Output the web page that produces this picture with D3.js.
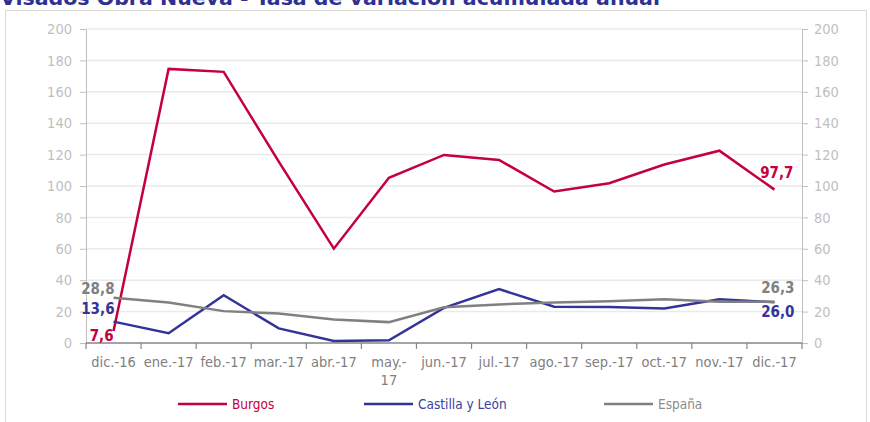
<!DOCTYPE html>
<html>
<head>
<meta charset="utf-8">
<script src="https://cdn.jsdelivr.net/npm/d3@7/dist/d3.min.js"></script>
<style>
  html, body { margin: 0; padding: 0; background: #fff; }
  svg { display: block; }
  text { font-family: "DejaVu Sans Condensed", "DejaVu Sans", sans-serif; }
</style>
</head>
<body>
<svg id="chart" width="870" height="422"></svg>
<script>
// Months on the x axis
const categories = ["dic.-16", "ene.-17", "feb.-17", "mar.-17", "abr.-17", "may.-17",
                    "jun.-17", "jul.-17", "ago.-17", "sep.-17", "oct.-17", "nov.-17", "dic.-17"];
// Tick labels as printed (may.-17 wraps onto two lines)
const tickLabels = ["dic.-16", "ene.-17", "feb.-17", "mar.-17", "abr.-17", "may.-\n17",
                    "jun.-17", "jul.-17", "ago.-17", "sep.-17", "oct.-17", "nov.-17", "dic.-17"];
// Accumulated annual change (%)
const burgos   = [7.6, 174.6, 172.7, 115.5, 60.1, 105.2, 119.8, 116.6, 96.5, 101.8, 113.7, 122.5, 97.7];
const castilla = [13.6, 6.2, 30.5, 9.3, 1.3, 1.7, 22.4, 34.3, 23.1, 23.0, 22.0, 27.8, 26.0];
const espana   = [28.8, 25.8, 20.3, 18.8, 15.0, 13.3, 22.7, 24.6, 25.8, 26.6, 27.8, 26.2, 26.3];
const seriesNames = ["Burgos", "Castilla y León", "España"];
const yTicks = [0, 20, 40, 60, 80, 100, 120, 140, 160, 180, 200];
const title = "Visados Obra Nueva - Tasa de variación acumulada anual";

const series = [
  { name: seriesNames[0], values: burgos,   color: "#C4003D", text: "#C4003D" },
  { name: seriesNames[1], values: castilla, color: "#33339A", text: "#3E3EA0" },
  { name: seriesNames[2], values: espana,   color: "#808080", text: "#8C8C8C" }
];

const svg = d3.select("#chart");

// Outer frame and title running along the top edge
svg.append("rect")
  .attr("x", 5.5).attr("y", 10.5).attr("width", 861).attr("height", 430)
  .attr("fill", "none").attr("stroke", "#D9D9D9").attr("stroke-width", 1);

svg.append("text")
  .attr("x", 0).attr("y", 5)
  .attr("font-size", 20).attr("font-weight", "bold")
  .attr("fill", "#2E3192")
  .attr("textLength", 660).attr("lengthAdjust", "spacingAndGlyphs")
  .text(title);

const x = d3.scaleBand().domain(categories).range([86, 802]);
const y = d3.scaleLinear().domain([0, 200]).range([343, 29]);
const xc = c => x(c) + x.bandwidth() / 2;

// Horizontal gridlines
svg.append("g").selectAll("line")
  .data(yTicks.filter(v => v > 0))
  .join("line")
  .attr("x1", 86).attr("x2", 802)
  .attr("y1", d => y(d)).attr("y2", d => y(d))
  .attr("stroke", "#EAEAEA").attr("stroke-width", 1.5);

// Left and right value axes
function styleValueAxis(g) {
  g.select(".domain").attr("stroke", "#BFBFBF");
  g.selectAll(".tick line").attr("stroke", "#BFBFBF");
  g.selectAll(".tick text").attr("fill", "#BFBFBF").attr("font-size", 14.5)
    .attr("font-family", '"DejaVu Sans Condensed", "DejaVu Sans", sans-serif');
}
svg.append("g").attr("transform", "translate(86,0)")
  .call(d3.axisLeft(y).tickValues(yTicks).tickSize(6).tickSizeOuter(0).tickPadding(8))
  .call(styleValueAxis);
svg.append("g").attr("transform", "translate(802,0)")
  .call(d3.axisRight(y).tickValues(yTicks).tickSize(6).tickSizeOuter(0).tickPadding(6))
  .call(styleValueAxis);

// Category axis: baseline, boundary ticks and labels
const xAxis = svg.append("g").attr("transform", "translate(0,343)");
xAxis.append("line").attr("x1", 86).attr("x2", 802)
  .attr("stroke", "#868686").attr("stroke-width", 1.5);
const bounds = categories.map(c => x(c)).concat([x.range()[1]]);
xAxis.selectAll("line.tk").data(bounds).join("line").attr("class", "tk")
  .attr("x1", d => d).attr("x2", d => d).attr("y1", 0).attr("y2", 6)
  .attr("stroke", "#868686").attr("stroke-width", 1.2);
const xl = xAxis.selectAll("text.lbl").data(categories).join("text").attr("class", "lbl")
  .attr("x", d => xc(d)).attr("y", 24)
  .attr("text-anchor", "middle").attr("font-size", 14.5).attr("fill", "#808080");
xl.each(function(d, i) {
  const lines = tickLabels[i].split("\n");
  d3.select(this).selectAll("tspan").data(lines).join("tspan")
    .attr("x", xc(d)).attr("dy", (l, j) => j === 0 ? 0 : 18).text(l => l);
});

// Series lines
const line = d3.line().x((v, i) => xc(categories[i])).y(v => y(v));
svg.append("g").selectAll("path")
  .data(series)
  .join("path")
  .attr("d", s => line(s.values))
  .attr("fill", "none")
  .attr("stroke", s => s.color)
  .attr("stroke-width", 2.5)
  .attr("stroke-linejoin", "miter");

// Value labels at first and last month
const placement = [
  { s: 0, i: 0,  dx: 0,  dy: 10 },
  { s: 1, i: 0,  dx: 1,  dy: -7.5 },
  { s: 2, i: 0,  dx: 1,  dy: -4 },
  { s: 0, i: 12, dx: 19, dy: -12 },
  { s: 1, i: 12, dx: 20, dy: 15 },
  { s: 2, i: 12, dx: 20, dy: -9 }
];
const fmt = v => d3.format(".1f")(v).replace(".", ",");
svg.append("g").selectAll("text")
  .data(placement)
  .join("text")
  .attr("x", p => xc(categories[p.i]) + p.dx)
  .attr("y", p => y(series[p.s].values[p.i]) + p.dy)
  .attr("text-anchor", "end")
  .attr("font-size", 15).attr("font-weight", "bold")
  .attr("fill", p => series[p.s].color)
  .text(p => fmt(series[p.s].values[p.i]));

// Legend
const legendX = [178, 364, 604];
const lg = svg.append("g").selectAll("g").data(series).join("g")
  .attr("transform", (s, i) => `translate(${legendX[i]},404)`);
lg.append("line").attr("x1", 0).attr("x2", 49).attr("y1", 0).attr("y2", 0)
  .attr("stroke", s => s.color).attr("stroke-width", 2.5);
lg.append("text").attr("x", 54).attr("y", 5)
  .attr("font-size", 13.5).attr("fill", s => s.text)
  .text(s => s.name);
</script>
</body>
</html>
